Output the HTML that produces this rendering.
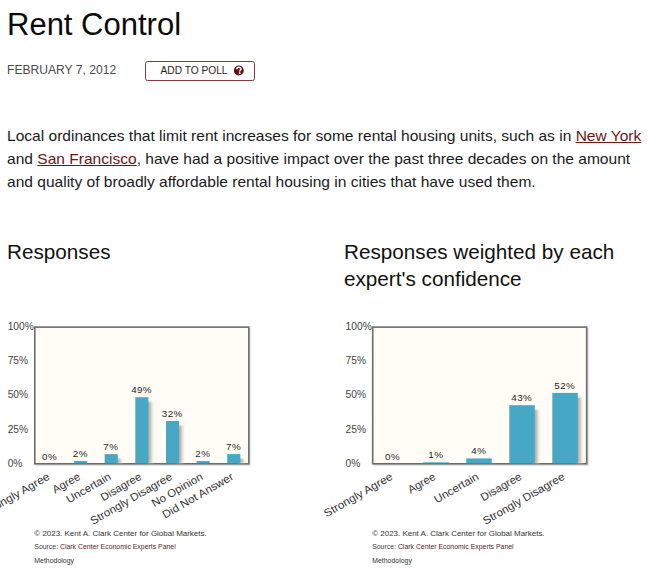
<!DOCTYPE html>
<html><head><meta charset="utf-8">
<style>
html,body{margin:0;padding:0;background:#fff;width:666px;height:568px;overflow:hidden;position:relative}
body{font-family:"Liberation Sans",sans-serif;color:#111}
.a{position:absolute;white-space:nowrap;line-height:1}
#title{left:7px;top:8.5px;font-size:31px;color:#0a0a0a}
#date{left:7px;top:64.1px;font-size:12.1px;color:#4a4a4a}
#btn{left:145px;top:60.5px;width:107.5px;height:18.9px;border:1.6px solid #853c3c;border-radius:2.5px;box-sizing:content-box}
#btntxt{left:160.5px;top:65.5px;font-size:10.2px;color:#2e1c1c}
#para{left:7px;top:124.3px;font-size:15.55px;line-height:23px;color:#1a1a1a;white-space:normal;width:660px}
#para a{color:#6e1414;text-decoration:underline}
#h1{left:7px;top:242px;font-size:20.7px;color:#111}
#h2{left:344px;top:238.4px;font-size:20.7px;line-height:27px;color:#111}
svg{position:absolute;left:0;top:0}
</style></head><body>
<div class="a" id="title">Rent Control</div>
<div class="a" id="date">FEBRUARY 7, 2012</div>
<div class="a" id="btn"></div>
<div class="a" id="btntxt">ADD TO POLL</div>
<svg style="position:absolute;left:232.6px;top:65.4px" width="12" height="12" viewBox="0 0 12 12"><circle cx="5.8" cy="5.5" r="4.9" fill="#620c18"/><path d="M3.9 4.3 C3.9 2.9 4.8 2.3 5.9 2.3 C7.1 2.3 7.9 3 7.9 4 C7.9 5.1 6.6 5.3 6.6 6.4" fill="none" stroke="#fff" stroke-width="1.6"/><rect x="5.8" y="7.3" width="1.7" height="1.6" fill="#fff"/></svg>
<div class="a" id="para">Local ordinances that limit rent increases for some rental housing units, such as in <a>New York</a><br>and <a>San Francisco</a>, have had a positive impact over the past three decades on the amount<br>and quality of broadly affordable rental housing in cities that have used them.</div>
<div class="a" id="h1">Responses</div>
<div class="a" id="h2">Responses weighted by each<br>expert's confidence</div>
<!--CHART-->
<svg width="666" height="568" viewBox="0 0 666 568" style="font-family:'Liberation Sans',sans-serif">
<defs><linearGradient id="sh" x1="0" x2="1" y1="0" y2="0"><stop offset="0" stop-color="#a0968c"/><stop offset="0.5" stop-color="#c4bcb2"/><stop offset="1" stop-color="#fffdf6" stop-opacity="0"/></linearGradient><filter id="bl" x="-50%" y="-10%" width="200%" height="120%"><feGaussianBlur stdDeviation="0.9"/></filter></defs>
<rect x="35.60" y="327.90" width="215.60" height="138.30" fill="#e4e4e4"/>
<rect x="34.80" y="327.10" width="214.00" height="136.70" fill="#fffdf6" stroke="#6b6b6b" stroke-width="1.6"/>
<text x="7.70" y="329.70" font-size="10.6" fill="#444" textLength="26.16" lengthAdjust="spacingAndGlyphs">100%</text>
<text x="7.70" y="363.98" font-size="10.6" fill="#444" textLength="20.44" lengthAdjust="spacingAndGlyphs">75%</text>
<text x="7.70" y="398.26" font-size="10.6" fill="#444" textLength="20.44" lengthAdjust="spacingAndGlyphs">50%</text>
<text x="7.70" y="432.54" font-size="10.6" fill="#444" textLength="20.44" lengthAdjust="spacingAndGlyphs">25%</text>
<text x="7.70" y="466.82" font-size="10.6" fill="#444" textLength="14.72" lengthAdjust="spacingAndGlyphs">0%</text>
<text x="49.45" y="459.80" font-size="9.8" fill="#262626" text-anchor="middle" textLength="14.72" lengthAdjust="spacing">0%</text>
<text x="50.45" y="478.80" font-size="11" fill="#333" text-anchor="end" transform="rotate(-30 50.45 478.80)" textLength="77.20" lengthAdjust="spacingAndGlyphs">Strongly Agree</text>
<rect x="85.14" y="465.50" width="8" height="-2.20" fill="url(#sh)" filter="url(#bl)"/>
<rect x="74.04" y="461.00" width="13.10" height="2.30" fill="#46a8c4"/>
<text x="80.09" y="456.90" font-size="9.8" fill="#262626" text-anchor="middle" textLength="14.72" lengthAdjust="spacing">2%</text>
<text x="81.09" y="478.80" font-size="11" fill="#333" text-anchor="end" transform="rotate(-30 81.09 478.80)" textLength="30.08" lengthAdjust="spacingAndGlyphs">Agree</text>
<rect x="115.78" y="458.60" width="8" height="4.70" fill="url(#sh)" filter="url(#bl)"/>
<rect x="104.68" y="454.10" width="13.10" height="9.20" fill="#46a8c4"/>
<text x="110.73" y="450.00" font-size="9.8" fill="#262626" text-anchor="middle" textLength="14.72" lengthAdjust="spacing">7%</text>
<text x="111.73" y="478.80" font-size="11" fill="#333" text-anchor="end" transform="rotate(-30 111.73 478.80)" textLength="49.46" lengthAdjust="spacingAndGlyphs">Uncertain</text>
<rect x="146.42" y="401.70" width="8" height="61.60" fill="url(#sh)" filter="url(#bl)"/>
<rect x="135.32" y="397.20" width="13.10" height="66.10" fill="#46a8c4"/>
<text x="141.37" y="393.10" font-size="9.8" fill="#262626" text-anchor="middle" textLength="20.44" lengthAdjust="spacing">49%</text>
<text x="142.37" y="478.80" font-size="11" fill="#333" text-anchor="end" transform="rotate(-30 142.37 478.80)" textLength="45.25" lengthAdjust="spacingAndGlyphs">Disagree</text>
<rect x="177.06" y="425.50" width="8" height="37.80" fill="url(#sh)" filter="url(#bl)"/>
<rect x="165.96" y="421.00" width="13.10" height="42.30" fill="#46a8c4"/>
<text x="172.01" y="416.90" font-size="9.8" fill="#262626" text-anchor="middle" textLength="20.44" lengthAdjust="spacing">32%</text>
<text x="173.01" y="478.80" font-size="11" fill="#333" text-anchor="end" transform="rotate(-30 173.01 478.80)" textLength="92.37" lengthAdjust="spacingAndGlyphs">Strongly Disagree</text>
<rect x="207.70" y="465.50" width="8" height="-2.20" fill="url(#sh)" filter="url(#bl)"/>
<rect x="196.60" y="461.00" width="13.10" height="2.30" fill="#46a8c4"/>
<text x="202.65" y="456.90" font-size="9.8" fill="#262626" text-anchor="middle" textLength="14.72" lengthAdjust="spacing">2%</text>
<text x="203.65" y="478.80" font-size="11" fill="#333" text-anchor="end" transform="rotate(-30 203.65 478.80)" textLength="56.92" lengthAdjust="spacingAndGlyphs">No Opinion</text>
<rect x="238.34" y="458.60" width="8" height="4.70" fill="url(#sh)" filter="url(#bl)"/>
<rect x="227.24" y="454.10" width="13.10" height="9.20" fill="#46a8c4"/>
<text x="233.29" y="450.00" font-size="9.8" fill="#262626" text-anchor="middle" textLength="14.72" lengthAdjust="spacing">7%</text>
<text x="234.29" y="478.80" font-size="11" fill="#333" text-anchor="end" transform="rotate(-30 234.29 478.80)" textLength="80.05" lengthAdjust="spacingAndGlyphs">Did Not Answer</text>
<text x="34.30" y="536.3" font-size="8" fill="#333" textLength="172.4" lengthAdjust="spacingAndGlyphs">© 2023. Kent A. Clark Center for Global Markets.</text>
<text x="34.30" y="549" font-size="7.6" fill="#3a3a3a" textLength="141.4" lengthAdjust="spacingAndGlyphs"><tspan>Source: </tspan><tspan fill="#5a1a1a">Clark Center Economic Experts Panel</tspan></text>
<text x="34.30" y="562.8" font-size="7.6" fill="#333" textLength="39.7" lengthAdjust="spacingAndGlyphs">Methodology</text>
<rect x="373.50" y="327.90" width="215.60" height="138.30" fill="#e4e4e4"/>
<rect x="372.70" y="327.10" width="214.00" height="136.70" fill="#fffdf6" stroke="#6b6b6b" stroke-width="1.6"/>
<text x="345.60" y="329.70" font-size="10.6" fill="#444" textLength="26.16" lengthAdjust="spacingAndGlyphs">100%</text>
<text x="345.60" y="363.98" font-size="10.6" fill="#444" textLength="20.44" lengthAdjust="spacingAndGlyphs">75%</text>
<text x="345.60" y="398.26" font-size="10.6" fill="#444" textLength="20.44" lengthAdjust="spacingAndGlyphs">50%</text>
<text x="345.60" y="432.54" font-size="10.6" fill="#444" textLength="20.44" lengthAdjust="spacingAndGlyphs">25%</text>
<text x="345.60" y="466.82" font-size="10.6" fill="#444" textLength="14.72" lengthAdjust="spacingAndGlyphs">0%</text>
<text x="392.48" y="459.80" font-size="9.8" fill="#262626" text-anchor="middle" textLength="14.72" lengthAdjust="spacing">0%</text>
<text x="393.48" y="478.80" font-size="11" fill="#333" text-anchor="end" transform="rotate(-30 393.48 478.80)" textLength="77.20" lengthAdjust="spacingAndGlyphs">Strongly Agree</text>
<rect x="446.75" y="466.80" width="8" height="-3.50" fill="url(#sh)" filter="url(#bl)"/>
<rect x="423.25" y="462.30" width="25.50" height="1.00" fill="#46a8c4"/>
<text x="435.50" y="458.20" font-size="9.8" fill="#262626" text-anchor="middle" textLength="14.72" lengthAdjust="spacing">1%</text>
<text x="436.50" y="478.80" font-size="11" fill="#333" text-anchor="end" transform="rotate(-30 436.50 478.80)" textLength="30.08" lengthAdjust="spacingAndGlyphs">Agree</text>
<rect x="489.77" y="462.90" width="8" height="0.40" fill="url(#sh)" filter="url(#bl)"/>
<rect x="466.27" y="458.40" width="25.50" height="4.90" fill="#46a8c4"/>
<text x="478.52" y="454.30" font-size="9.8" fill="#262626" text-anchor="middle" textLength="14.72" lengthAdjust="spacing">4%</text>
<text x="479.52" y="478.80" font-size="11" fill="#333" text-anchor="end" transform="rotate(-30 479.52 478.80)" textLength="49.46" lengthAdjust="spacingAndGlyphs">Uncertain</text>
<rect x="532.79" y="409.70" width="8" height="53.60" fill="url(#sh)" filter="url(#bl)"/>
<rect x="509.29" y="405.20" width="25.50" height="58.10" fill="#46a8c4"/>
<text x="521.54" y="401.10" font-size="9.8" fill="#262626" text-anchor="middle" textLength="20.44" lengthAdjust="spacing">43%</text>
<text x="522.54" y="478.80" font-size="11" fill="#333" text-anchor="end" transform="rotate(-30 522.54 478.80)" textLength="45.25" lengthAdjust="spacingAndGlyphs">Disagree</text>
<rect x="575.81" y="397.40" width="8" height="65.90" fill="url(#sh)" filter="url(#bl)"/>
<rect x="552.31" y="392.90" width="25.50" height="70.40" fill="#46a8c4"/>
<text x="564.56" y="388.80" font-size="9.8" fill="#262626" text-anchor="middle" textLength="20.44" lengthAdjust="spacing">52%</text>
<text x="565.56" y="478.80" font-size="11" fill="#333" text-anchor="end" transform="rotate(-30 565.56 478.80)" textLength="92.37" lengthAdjust="spacingAndGlyphs">Strongly Disagree</text>
<text x="372.20" y="536.3" font-size="8" fill="#333" textLength="172.4" lengthAdjust="spacingAndGlyphs">© 2023. Kent A. Clark Center for Global Markets.</text>
<text x="372.20" y="549" font-size="7.6" fill="#3a3a3a" textLength="141.4" lengthAdjust="spacingAndGlyphs"><tspan>Source: </tspan><tspan fill="#5a1a1a">Clark Center Economic Experts Panel</tspan></text>
<text x="372.20" y="562.8" font-size="7.6" fill="#333" textLength="39.7" lengthAdjust="spacingAndGlyphs">Methodology</text>
</svg>
<!--/CHART-->
</body></html>
